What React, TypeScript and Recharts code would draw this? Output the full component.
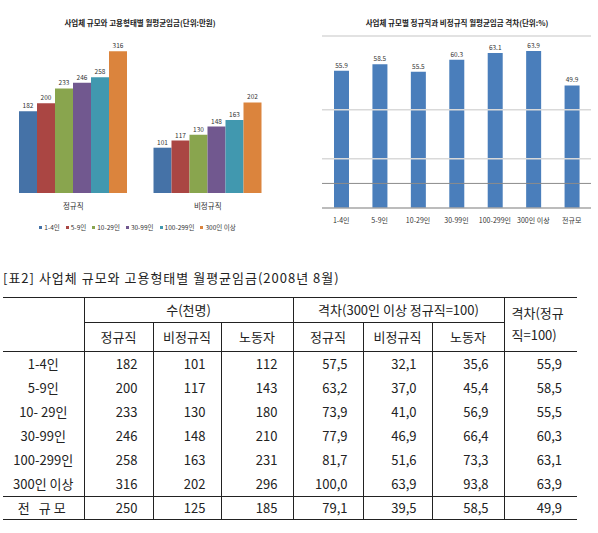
import React from "react";
import {
  BarChart,
  Bar,
  XAxis,
  YAxis,
  Legend,
  LabelList,
  ReferenceLine,
} from "recharts";

const FONT = '"Noto Sans CJK KR", "Noto Sans", sans-serif';

// left chart: wage by firm size and employment type (만원)
const sizeLabels = ["1-4인", "5-9인", "10-29인", "30-99인", "100-299인", "300인 이상"];
const employTypes = ["정규직", "비정규직"];
const regularWage = [182, 200, 233, 246, 258, 316];
const nonRegularWage = [101, 117, 130, 148, 163, 202];
const sizeColors = ["#4572A7", "#AA4643", "#89A54E", "#71588F", "#4198AF", "#DB843D"];

// right chart: non-regular / regular gap (%)
const gapCategories = ["1-4인", "5-9인", "10-29인", "30-99인", "100-299인", "300인 이상", "전규모"];
const gapValues = [55.9, 58.5, 55.5, 60.3, 63.1, 63.9, 49.9];
const lightGridLevels = [20, 40, 70];
const darkGridLevel = 10;

// table
const rowLabels = ["1-4인", "5-9인", "10- 29인", "30-99인", "100-299인", "300인 이상", "전 규모"];
const tblRegular = [182, 200, 233, 246, 258, 316, 250];
const tblNonRegular = [101, 117, 130, 148, 163, 202, 125];
const tblWorkers = [112, 143, 180, 210, 231, 296, 185];
const gapRegular = [57.5, 63.2, 73.9, 77.9, 81.7, 100.0, 79.1];
const gapNonRegular = [32.1, 37.0, 41.0, 46.9, 51.6, 63.9, 39.5];
const gapWorkers = [35.6, 45.4, 56.9, 66.4, 73.3, 93.8, 58.5];
const gapRatio = [55.9, 58.5, 55.5, 60.3, 63.1, 63.9, 49.9];
const subHeaders = ["정규직", "비정규직", "노동자"];
const colWidths = [81, 69, 68, 72, 70, 69, 72, 73];

const wageData = employTypes.map((t, i) => {
  const src = i === 0 ? regularWage : nonRegularWage;
  const row: Record<string, string | number> = { type: t };
  sizeLabels.forEach((_, j) => {
    row[`s${j}`] = src[j];
  });
  return row;
});

const gapData = gapCategories.map((c, i) => ({ size: c, gap: gapValues[i] }));

const fmt = (v: number) => v.toFixed(1).replace(".", ",");

function SizeLegend({ payload }: any) {
  // keep series order, recharts sorts legend items by name
  const items = [...(payload || [])].sort(
    (a: any, b: any) => sizeLabels.indexOf(a.value) - sizeLabels.indexOf(b.value)
  );
  return (
    <div
      style={{
        display: "flex",
        justifyContent: "center",
        fontSize: 6.5,
        color: "#333",
        paddingTop: 7,
        fontFamily: FONT,
      }}
    >
      {items.map((p: any) => (
        <span
          key={p.value}
          style={{ display: "inline-flex", alignItems: "center", marginRight: 6 }}
        >
          <span
            style={{ width: 3, height: 3, background: p.color, marginRight: 2 }}
          />
          {p.value}
        </span>
      ))}
    </div>
  );
}

const line = "1px solid #222";

export default function App() {
  const cell: React.CSSProperties = {
    padding: 0,
    fontSize: 13,
    color: "#222",
    whiteSpace: "nowrap",
  };
  const num: React.CSSProperties = {
    ...cell,
    textAlign: "right",
    paddingRight: 15,
    borderLeft: line,
  };
  const last = rowLabels.length - 1;
  const dataRows = rowLabels.map((label, i) => (
    <tr key={label} style={{ height: i === last ? 23 : 24.2 }}>
      <td
        style={{
          ...cell,
          textAlign: "center",
          letterSpacing: i === last ? 3 : 0,
          borderTop: i === last ? line : undefined,
          borderBottom: i === last ? line : undefined,
        }}
      >
        {label}
      </td>
      {[
        String(tblRegular[i]),
        String(tblNonRegular[i]),
        String(tblWorkers[i]),
        fmt(gapRegular[i]),
        fmt(gapNonRegular[i]),
        fmt(gapWorkers[i]),
        fmt(gapRatio[i]),
      ].map((v, k) => (
        <td
          key={k}
          style={{
            ...num,
            borderTop: i === last ? line : undefined,
            borderBottom: i === last ? line : undefined,
          }}
        >
          {v}
        </td>
      ))}
    </tr>
  ));

  return (
    <div
      style={{
        position: "absolute",
        left: 0,
        top: 0,
        width: 598,
        height: 533,
        background: "#fff",
        overflow: "hidden",
        fontFamily: FONT,
      }}
    >
      {/* left chart */}
      <div
        style={{
          position: "absolute",
          left: 0,
          top: 18,
          width: 280,
          textAlign: "center",
          fontSize: 7.5,
          fontWeight: "bold",
          lineHeight: "10px",
          color: "#222",
        }}
      >
        사업체 규모와 고용형태별 월평균임금(단위:만원)
      </div>
      <div style={{ position: "absolute", left: 0, top: 0 }}>
        <BarChart
          width={290}
          height={240}
          data={wageData}
          margin={{ top: 36, right: 15, left: 6, bottom: 0 }}
          barGap={0}
        >
          <XAxis
            dataKey="type"
            axisLine={false}
            tickLine={false}
            tickMargin={5}
            height={22}
            tick={{ fontSize: 7.5, fill: "#333", fontFamily: FONT }}
          />
          <YAxis hide domain={[0, 350]} />
          <Legend verticalAlign="bottom" height={25} content={<SizeLegend />} />
          {sizeLabels.map((s, j) => (
            <Bar
              key={s}
              dataKey={`s${j}`}
              name={s}
              fill={sizeColors[j]}
              barSize={18}
              isAnimationActive={false}
            >
              <LabelList
                dataKey={`s${j}`}
                position="top"
                offset={3}
                fontSize={6.5}
                fill="#333"
                fontFamily={FONT}
              />
            </Bar>
          ))}
        </BarChart>
      </div>

      {/* right chart */}
      <div
        style={{
          position: "absolute",
          left: 357,
          top: 18,
          width: 200,
          textAlign: "center",
          fontSize: 7.5,
          fontWeight: "bold",
          lineHeight: "10px",
          color: "#222",
          whiteSpace: "nowrap",
        }}
      >
        사업체 규모별 정규직과 비정규직 월평균임금 격차(단위:%)
      </div>
      <div style={{ position: "absolute", left: 300, top: 0 }}>
        <BarChart
          width={298}
          height={235}
          data={gapData}
          margin={{ top: 36, right: 7, left: 22, bottom: 0 }}
        >
          {lightGridLevels.map((v) => (
            <ReferenceLine key={v} y={v} stroke="#d9d9d9" strokeWidth={1.5} />
          ))}
          <ReferenceLine y={darkGridLevel} stroke="#8c8c8c" strokeWidth={1} />
          <XAxis
            dataKey="size"
            axisLine={{ stroke: "#a6a6a6", strokeWidth: 1.5 }}
            tickLine={false}
            tickMargin={4}
            height={27}
            interval={0}
            tick={{ fontSize: 7, fill: "#333", fontFamily: FONT }}
          />
          <YAxis hide domain={[0, 70]} />
          <Bar dataKey="gap" fill="#4A7EBB" barSize={15} isAnimationActive={false}>
            <LabelList
              dataKey="gap"
              position="top"
              offset={3}
              fontSize={6.5}
              fill="#333"
              fontFamily={FONT}
              formatter={(v: any) => Number(v).toFixed(1)}
            />
          </Bar>
        </BarChart>
      </div>

      {/* table */}
      <div
        style={{
          position: "absolute",
          left: 3,
          top: 269,
          fontSize: 13,
          lineHeight: "18px",
          color: "#222",
          letterSpacing: 1,
          whiteSpace: "nowrap",
        }}
      >
        [표2] 사업체 규모와 고용형태별 월평균임금(2008년 8월)
      </div>
      <table
        style={{
          position: "absolute",
          left: 3,
          top: 297,
          width: 574,
          borderCollapse: "collapse",
          tableLayout: "fixed",
          fontFamily: FONT,
        }}
      >
        <colgroup>
          {colWidths.map((w, i) => (
            <col key={i} style={{ width: w }} />
          ))}
        </colgroup>
        <tbody>
          <tr style={{ height: 24.5 }}>
            <td rowSpan={2} style={{ ...cell, borderTop: line, borderBottom: line }} />
            <td
              colSpan={3}
              style={{ ...cell, textAlign: "center", borderTop: line, borderLeft: line, borderBottom: line }}
            >
              수(천명)
            </td>
            <td
              colSpan={3}
              style={{ ...cell, textAlign: "center", borderTop: line, borderLeft: line, borderBottom: line }}
            >
              격차(300인 이상 정규직=100)
            </td>
            <td
              rowSpan={2}
              style={{
                ...cell,
                textAlign: "left",
                paddingLeft: 7,
                lineHeight: "22px",
                borderTop: line,
                borderLeft: line,
                borderBottom: line,
              }}
            >
              격차(정규
              <br />
              직=100)
            </td>
          </tr>
          <tr style={{ height: 29 }}>
            {[...subHeaders, ...subHeaders].map((h, k) => (
              <td
                key={k}
                style={{ ...cell, textAlign: "center", borderLeft: line, borderBottom: line }}
              >
                {h}
              </td>
            ))}
          </tr>
          {dataRows}
        </tbody>
      </table>
    </div>
  );
}
